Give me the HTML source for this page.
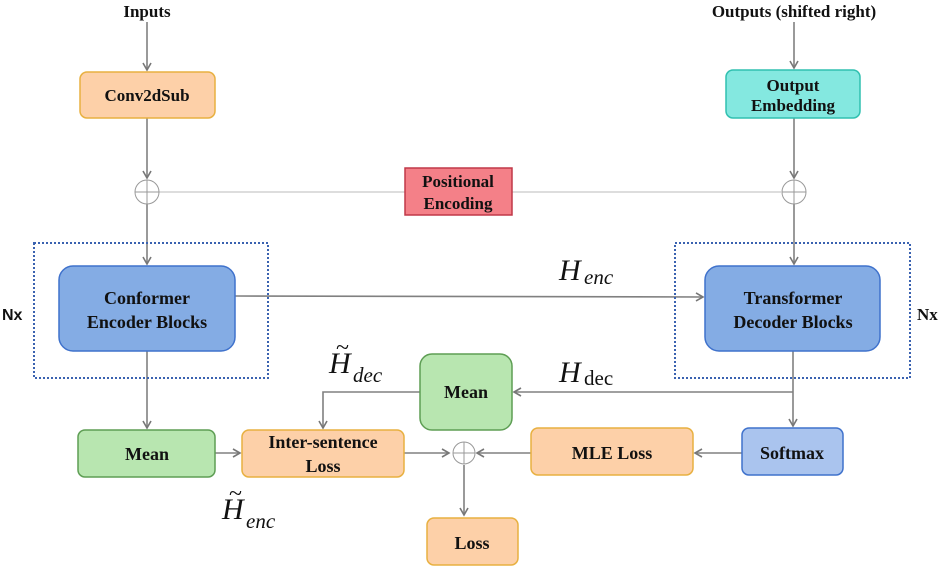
<!DOCTYPE html>
<html><head><style>
body{margin:0;background:#fff;}
svg text{font-family:"Liberation Serif",serif;font-weight:bold;fill:#111;}
</style></head><body>
<svg width="941" height="568" viewBox="0 0 941 568" xmlns="http://www.w3.org/2000/svg">
<defs>
<marker id="a" markerWidth="10" markerHeight="10" refX="8" refY="5" orient="auto" markerUnits="userSpaceOnUse">
<path d="M1,1 L8,5 L1,9" fill="none" stroke="#777" stroke-width="1.6"/>
</marker>
</defs>
<g stroke="#808080" stroke-width="1.6" fill="none">
<line x1="147" y1="22" x2="147" y2="70" marker-end="url(#a)"/>
<line x1="147" y1="118" x2="147" y2="178" marker-end="url(#a)"/>
<line x1="159" y1="192" x2="405" y2="192" stroke="#bbb" stroke-width="1"/>
<line x1="512" y1="192" x2="781" y2="192" stroke="#bbb" stroke-width="1"/>
<line x1="147" y1="204" x2="147" y2="264" marker-end="url(#a)"/>
<line x1="794" y1="22" x2="794" y2="68" marker-end="url(#a)"/>
<line x1="794" y1="118" x2="794" y2="178" marker-end="url(#a)"/>
<line x1="794" y1="204" x2="794" y2="264" marker-end="url(#a)"/>
<line x1="235" y1="296" x2="703" y2="297" marker-end="url(#a)"/>
<line x1="147" y1="351" x2="147" y2="428" marker-end="url(#a)"/>
<line x1="793" y1="351" x2="793" y2="426" marker-end="url(#a)"/>
<line x1="793" y1="392" x2="514" y2="392" marker-end="url(#a)"/>
<polyline points="420,392 323,392 323,428" marker-end="url(#a)"/>
<line x1="215" y1="453" x2="240" y2="453" marker-end="url(#a)"/>
<line x1="404" y1="453" x2="449" y2="453" marker-end="url(#a)"/>
<line x1="742" y1="453" x2="695" y2="453" marker-end="url(#a)"/>
<line x1="531" y1="453" x2="477" y2="453" marker-end="url(#a)"/>
<line x1="464" y1="465" x2="464" y2="515" marker-end="url(#a)"/>
</g>
<g stroke="#999" stroke-width="1" fill="#fff">
<circle cx="147" cy="192" r="12"/><line x1="135" y1="192" x2="159" y2="192"/><line x1="147" y1="180" x2="147" y2="204"/>
<circle cx="794" cy="192" r="12"/><line x1="782" y1="192" x2="806" y2="192"/><line x1="794" y1="180" x2="794" y2="204"/>
<circle cx="464" cy="453" r="11"/><line x1="453" y1="453" x2="475" y2="453"/><line x1="464" y1="442" x2="464" y2="464"/>
</g>
<g fill="none" stroke="#3a62b0" stroke-width="2" stroke-dasharray="2,2">
<rect x="34" y="243" width="234" height="135"/>
<rect x="675" y="243" width="235" height="135"/>
</g>
<g stroke-width="1.5">
<rect x="80" y="72" width="135" height="46" rx="7" fill="#fdd0a8" stroke="#e8b040"/>
<rect x="726" y="70" width="134" height="48" rx="7" fill="#84e8e0" stroke="#30c0b0"/>
<rect x="405" y="168" width="107" height="47" fill="#f48088" stroke="#c03848"/>
<rect x="59" y="266" width="176" height="85" rx="14" fill="#84ace4" stroke="#3f72cc"/>
<rect x="705" y="266" width="175" height="85" rx="14" fill="#84ace4" stroke="#3f72cc"/>
<rect x="420" y="354" width="92" height="76" rx="12" fill="#b8e6b0" stroke="#5e9e54"/>
<rect x="78" y="430" width="137" height="47" rx="7" fill="#b8e6b0" stroke="#5e9e54"/>
<rect x="242" y="430" width="162" height="47" rx="7" fill="#fdd0a8" stroke="#e8b040"/>
<rect x="531" y="428" width="162" height="47" rx="7" fill="#fdd0a8" stroke="#e8b040"/>
<rect x="742" y="428" width="101" height="47" rx="7" fill="#aac4ee" stroke="#3f72cc"/>
<rect x="427" y="518" width="91" height="47" rx="7" fill="#fdd0a8" stroke="#e8b040"/>
</g>
<g font-size="17" text-anchor="middle">
<text x="147" y="17">Inputs</text>
<text x="794" y="17">Outputs (shifted right)</text>
<text x="147" y="101">Conv2dSub</text>
<text x="793" y="91">Output</text><text x="793" y="111">Embedding</text>
<text x="458" y="187">Positional</text><text x="458" y="209">Encoding</text>
</g>
<g font-size="18" text-anchor="middle">
<text x="147" y="304">Conformer</text><text x="147" y="328">Encoder Blocks</text>
<text x="793" y="304">Transformer</text><text x="793" y="328">Decoder Blocks</text>
<text x="466" y="398">Mean</text>
<text x="147" y="460">Mean</text>
<text x="323" y="448">Inter-sentence</text><text x="323" y="472">Loss</text>
<text x="612" y="459">MLE Loss</text>
<text x="792" y="459">Softmax</text>
<text x="472" y="549">Loss</text>
</g>
<text x="2" y="320" font-size="16" style="font-family:'Liberation Sans',sans-serif">Nx</text>
<text x="917" y="320" font-size="17">Nx</text>
<g font-size="30">
<text x="559" y="280" style="font-weight:normal;font-style:italic">H</text>
<text x="584" y="284" font-size="21" style="font-weight:normal;font-style:italic">enc</text>
<text x="559" y="382" style="font-weight:normal;font-style:italic">H</text>
<text x="584" y="385" font-size="21" style="font-weight:normal;font-style:normal">dec</text>
<text x="329" y="373" style="font-weight:normal;font-style:italic">H</text>
<text x="336" y="355" font-size="24" style="font-weight:normal">~</text>
<text x="353" y="382" font-size="21" style="font-weight:normal;font-style:italic">dec</text>
<text x="222" y="519" style="font-weight:normal;font-style:italic">H</text>
<text x="229" y="501" font-size="24" style="font-weight:normal">~</text>
<text x="246" y="528" font-size="21" style="font-weight:normal;font-style:italic">enc</text>
</g>
</svg>
</body></html>
